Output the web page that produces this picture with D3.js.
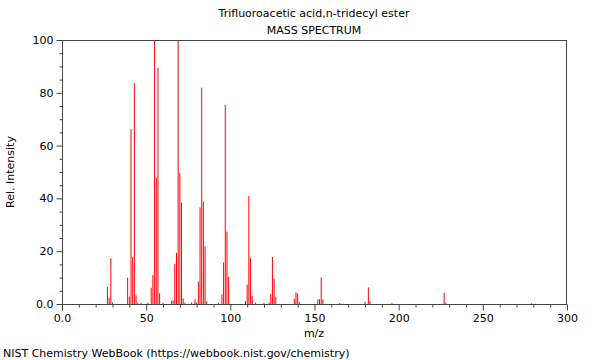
<!DOCTYPE html>
<html><head><meta charset="utf-8">
<script src="https://cdn.jsdelivr.net/npm/d3@7"></script>
<style>body{margin:0;background:#fff}svg{display:block}text{font-family:"DejaVu Sans",sans-serif;fill:#000}</style>
</head><body>
<svg id="c" width="600" height="360"></svg>
<script>
const titleLines = ["Trifluoroacetic acid,n-tridecyl ester", "MASS SPECTRUM"];
const mz = [27,28,29,30,39,40,41,42,43,44,45,47,51,53,54,55,56,57,58,60,65,66,67,68,69,70,71,72,73,77,79,80,81,82,83,84,85,86,93,95,96,97,98,99,109,110,111,112,113,115,120,123,124,125,126,127,138,139,140,141,152,153,154,155,165,180,182,183,196,227,228,279];
const intensity = [6.5,2.3,17.3,0.6,10.0,2.8,66.2,17.7,83.6,3.2,0.5,0.4,0.5,6.2,11.0,100,47.8,89.5,4.0,0.4,1.3,1.4,15.2,19.4,100,49.7,38.4,2.1,0.5,0.6,1.8,0.6,8.5,36.6,82.0,38.8,21.9,1.0,0.5,3.7,15.8,75.4,27.4,10.4,1.1,7.4,40.9,17.3,3.0,0.5,0.4,0.6,3.7,17.8,9.6,2.7,2.0,4.4,4.0,0.8,1.8,1.8,10.1,1.8,0.4,0.9,6.3,1.0,0.3,4.3,0.5,0.3];
const xTicks = [0,50,100,150,200,250,300];
const xTickLabels = ["0.0","50","100","150","200","250","300"];
const yTicks = [0,20,40,60,80,100];
const yTickLabels = ["0.0","20","40","60","80","100"];
const xLabel = "m/z", yLabel = "Rel. Intensity";
const footer = "NIST Chemistry WebBook (https://webbook.nist.gov/chemistry)";

const svg = d3.select("#c");
const L = 62, R = 567, T = 40, B = 304;
const x = d3.scaleLinear().domain([0,300]).range([L,R]);
const y = d3.scaleLinear().domain([0,100]).range([B,T]);
const axisCol = "#444";

// peaks
const data = mz.map((m,i)=>({m, v:intensity[i]}));
svg.append("g").selectAll("line").data(data).join("line")
  .attr("x1",d=>x(d.m)).attr("x2",d=>x(d.m))
  .attr("y1",y(0)).attr("y2",d=>y(d.v))
  .attr("stroke","#ff0000").attr("stroke-width",1);

// frame
svg.append("rect").attr("x",L+0.5).attr("y",T+0.5).attr("width",R-L-1).attr("height",B-T)
  .attr("fill","none").attr("stroke",axisCol).attr("stroke-width",1);

// x axis
const xMinor = d3.range(0,301,10).filter(v=>v%50!==0);
const gx = svg.append("g").attr("transform",`translate(0,${B+0.5})`);
gx.call(d3.axisBottom(x).tickValues(xMinor).tickSize(3).tickFormat(""))
  .call(g=>g.select(".domain").remove());
gx.append("g").call(d3.axisBottom(x).tickValues(xTicks).tickSize(6)
  .tickFormat((d,i)=>xTickLabels[i]).tickPadding(4))
  .call(g=>g.select(".domain").remove());
gx.selectAll("line").attr("stroke",axisCol);
gx.selectAll("text").attr("font-size","11px").attr("font-family","DejaVu Sans").attr("fill","#000");

// y axis
const yMinor = d3.range(0,101,5).filter(v=>v%20!==0);
const gy = svg.append("g").attr("transform",`translate(${L+0.5},0)`);
gy.call(d3.axisLeft(y).tickValues(yMinor).tickSize(3).tickFormat(""))
  .call(g=>g.select(".domain").remove());
gy.append("g").call(d3.axisLeft(y).tickValues(yTicks).tickSize(6)
  .tickFormat((d,i)=>yTickLabels[i]).tickPadding(3))
  .call(g=>g.select(".domain").remove());
gy.selectAll("line").attr("stroke",axisCol);
gy.selectAll("text").attr("font-size","11px").attr("font-family","DejaVu Sans").attr("fill","#000");

// titles
svg.append("text").attr("x",314).attr("y",17).attr("text-anchor","middle").attr("font-size","11px").text(titleLines[0]);
svg.append("text").attr("x",314).attr("y",34).attr("text-anchor","middle").attr("font-size","11px").text(titleLines[1]);
svg.append("text").attr("x",314).attr("y",337).attr("text-anchor","middle").attr("font-size","11px").text(xLabel);
svg.append("text").attr("transform",`translate(14,${(T+B)/2}) rotate(-90)`).attr("text-anchor","middle").attr("font-size","11px").text(yLabel);
svg.append("text").attr("x",3).attr("y",357).attr("font-size","11px").text(footer);
</script>
</body></html>
